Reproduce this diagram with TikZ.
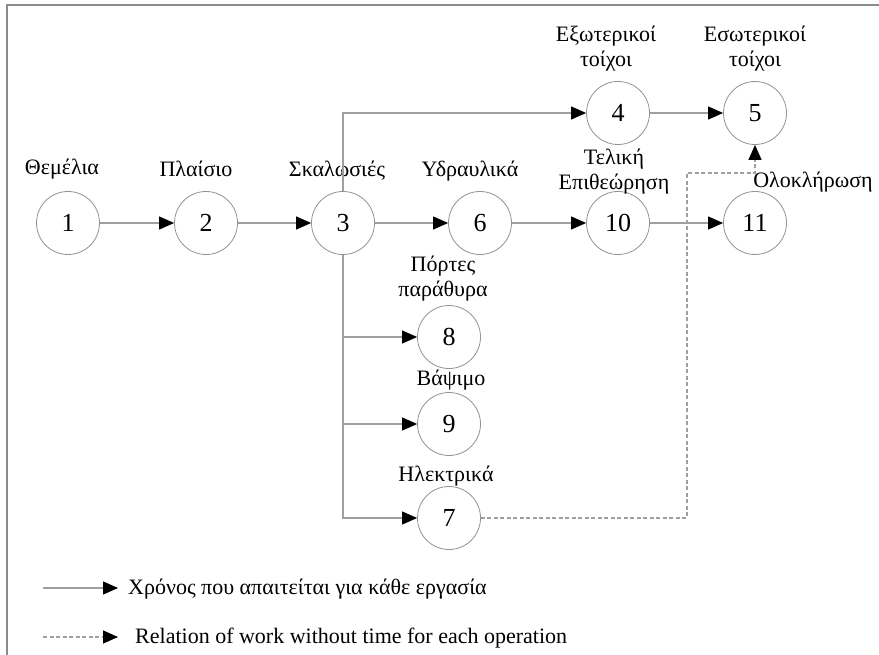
\documentclass[tikz,border=0pt]{standalone}
\usepackage{fontspec}
\setmainfont{Liberation Serif}
\usetikzlibrary{arrows.meta}

\begin{document}
\begin{tikzpicture}
[x=1pt, y=-1pt,
event/.style={circle, draw=gray!85, line width=0.8pt, minimum size=63pt, inner sep=0pt, font=\fontsize{26}{26}\selectfont},
activity/.style={font=\fontsize{22}{25}\selectfont, align=center, inner sep=0pt, anchor=base},
duration/.style={draw=gray!75, line width=1.1pt, -{Triangle[length=15pt, width=13pt, color=black]}},
slack/.style={duration, dash pattern=on 4pt off 2.5pt},
frame/.style={draw=gray!90, line width=1.5pt}]
\useasboundingbox (0,0) rectangle (879,655);
\draw[frame] (7,655) -- (7,5) -- (879,5);
\node[event] (n1) at (68,223) {1};
\node[event] (n2) at (206,223) {2};
\node[event] (n3) at (343,223) {3};
\node[event] (n6) at (480,223) {6};
\node[event] (n10) at (618,223) {10};
\node[event] (n11) at (755,223) {11};
\node[event] (n4) at (618,113) {4};
\node[event] (n5) at (755,113) {5};
\node[event] (n8) at (449,337) {8};
\node[event] (n9) at (449,424) {9};
\node[event] (n7) at (449,518) {7};
\node[activity] (t1) at (62,175) {Θεμέλια};
\node[activity] (t2) at (196,177) {Πλαίσιο};
\node[activity] (t3) at (337,177) {Σκαλωσιές};
\node[activity] (t6) at (470,177) {Υδραυλικά};
\node[activity] (t10) at (614,190) {Τελική\\Επιθεώρηση};
\node[activity] (t4) at (606,67) {Εξωτερικοί\\τοίχοι};
\node[activity] (t5) at (755,67) {Εσωτερικοί\\τοίχοι};
\node[activity] (t11) at (813,188) {Ολοκλήρωση};
\node[activity] (t8) at (443,297) {Πόρτες\\παράθυρα};
\node[activity] (t9) at (451,385) {Βάψιμο};
\node[activity] (t7) at (446,481) {Ηλεκτρικά};
\draw[duration] (n1) -- (n2);
\draw[duration] (n2) -- (n3);
\draw[duration] (n3) -- (n6);
\draw[duration] (n6) -- (n10);
\draw[duration] (n10) -- (n11);
\draw[duration] (n4) -- (n5);
\draw[duration] (n3.north) |- (n4.west);
\draw[duration] (n3.south) |- (n7.west);
\draw[duration] (n3.south |- n8.west) -- (n8.west);
\draw[duration] (n3.south |- n9.west) -- (n9.west);
\coordinate (bend) at (687,173);
\draw[slack] (n7.east) -| (bend) -| (n5.south);
\coordinate (keysolid) at (43,588);
\coordinate (keydash) at (43,637);
\node[activity, anchor=base west] (keysolidtext) at (128,594) {Χρόνος που απαιτείται για κάθε εργασία};
\node[activity, anchor=base west] (keydashtext) at (135,643) {Relation of work without time for each operation};
\draw[duration] (keysolid) -- (keysolid -| 118,0);
\draw[slack] (keydash) -- (keydash -| 118,0);
\end{tikzpicture}
\end{document}
